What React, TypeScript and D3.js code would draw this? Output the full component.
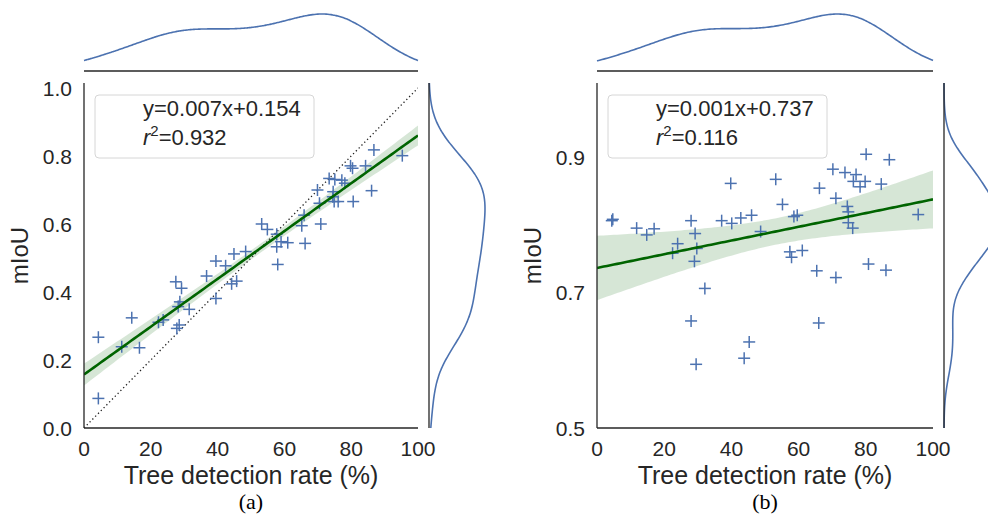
import React from "react";
import * as d3 from "d3";

// ---------- data ----------
const xTicks = [0, 20, 40, 60, 80, 100];
const yTicksA = [0.0, 0.2, 0.4, 0.6, 0.8, 1.0];
const yTicksB = [0.5, 0.7, 0.9];

const rateA = [4.3, 4.3, 11.3, 14.3, 16.6, 22.3, 23.7, 27.5, 29.2, 28.7, 28.2, 31.5, 27.8, 28.5, 36.7, 39.5, 39.5, 42.4, 44.2, 45.7, 44.9, 48.4, 53.2, 54.9, 57.7, 57.7, 59.0, 61.0, 58.0, 65.2, 65.9, 66.2, 70.9, 69.9, 70.5, 73.4, 74.6, 74.9, 76.1, 75.1, 77.2, 78.1, 74.5, 79.8, 80.4, 80.6, 84.3, 86.1, 86.8, 95.3];
const miouA = [0.267, 0.087, 0.239, 0.324, 0.236, 0.311, 0.318, 0.43, 0.411, 0.371, 0.357, 0.349, 0.293, 0.303, 0.447, 0.381, 0.491, 0.477, 0.424, 0.432, 0.512, 0.519, 0.6, 0.584, 0.57, 0.533, 0.548, 0.545, 0.481, 0.595, 0.626, 0.543, 0.6, 0.7, 0.661, 0.734, 0.695, 0.666, 0.666, 0.731, 0.729, 0.72, 0.68, 0.771, 0.764, 0.666, 0.771, 0.698, 0.818, 0.801];

const rateB = [4.4, 4.7, 11.8, 14.8, 17.0, 22.5, 24.0, 28.0, 29.2, 29.7, 29.0, 32.1, 28.0, 29.5, 37.1, 40.1, 39.8, 42.8, 46.0, 48.7, 45.3, 43.8, 53.2, 55.2, 58.6, 59.6, 57.4, 57.9, 61.1, 66.2, 65.4, 66.0, 70.2, 71.1, 71.1, 73.8, 74.5, 74.8, 74.8, 76.1, 77.1, 76.3, 78.3, 79.8, 80.1, 80.8, 84.6, 86.0, 87.0, 95.6];
const miouB = [0.806, 0.808, 0.795, 0.785, 0.794, 0.758, 0.772, 0.806, 0.787, 0.765, 0.746, 0.706, 0.658, 0.594, 0.806, 0.802, 0.861, 0.81, 0.814, 0.79, 0.627, 0.603, 0.867, 0.83, 0.812, 0.814, 0.76, 0.752, 0.762, 0.854, 0.732, 0.655, 0.882, 0.839, 0.722, 0.877, 0.827, 0.819, 0.803, 0.795, 0.874, 0.864, 0.856, 0.864, 0.904, 0.742, 0.86, 0.733, 0.896, 0.815];

const equations = ["y=0.007x+0.154", "y=0.001x+0.737"];
const r2Values = ["0.932", "0.116"];
const panelLabels = ["(a)", "(b)"];
const xLabel = "Tree detection rate (%)";
const yLabel = "mIoU";

// ---------- helpers ----------
const SANS = "'Liberation Sans', Arial, Helvetica, sans-serif";
const SERIF = "'Liberation Serif', 'Times New Roman', serif";
const BLUE = "#4c72b0";
const GREEN = "#006400";
const INK = "#262626";

function fit(xs: number[], ys: number[]) {
  const n = xs.length;
  const mx = d3.mean(xs)!;
  const my = d3.mean(ys)!;
  let sxx = 0, sxy = 0;
  xs.forEach((x, i) => { sxx += (x - mx) ** 2; sxy += (x - mx) * (ys[i] - my); });
  const slope = sxy / sxx;
  const intercept = my - slope * mx;
  let sse = 0;
  xs.forEach((x, i) => { sse += (ys[i] - (intercept + slope * x)) ** 2; });
  const s = Math.sqrt(sse / (n - 2));
  const t = 2.011;
  const ci = (x: number) => t * s * Math.sqrt(1 / n + (x - mx) ** 2 / sxx);
  return { slope, intercept, ci };
}

function kde(values: number[], grid: number[]) {
  const n = values.length;
  const sd = d3.deviation(values)!;
  const bw = sd * Math.pow(n, -1 / 5);
  const k = 1 / (bw * Math.sqrt(2 * Math.PI));
  return grid.map((g) => [g, (k / n) * d3.sum(values, (v) => Math.exp(-0.5 * ((g - v) / bw) ** 2))] as [number, number]);
}

type PanelProps = {
  idx: number;
  left: number;
  width: number;
  xs: number[];
  ys: number[];
  yDomain: [number, number];
  yTicks: number[];
  identity: boolean;
};

const TOP = 83;
const BOTTOM = 428;
const MARG_TOP_BASE = 71;
const MARG_TOP_PEAK = 14;
const MARG_GAP = 11;
const MARG_W = 56;

function Panel({ idx, left, width, xs, ys, yDomain, yTicks, identity }: PanelProps) {
  const right = left + width;
  const x = d3.scaleLinear().domain([0, 100]).range([left, right]);
  const y = d3.scaleLinear().domain(yDomain).range([BOTTOM, TOP]);
  const f = fit(xs, ys);
  const grid = d3.range(0, 100.001, 1);
  const band = d3.area<number>()
    .x((g) => x(g))
    .y0((g) => y(f.intercept + f.slope * g - f.ci(g)))
    .y1((g) => y(f.intercept + f.slope * g + f.ci(g)));
  const line = d3.line<number>().x((g) => x(g)).y((g) => y(f.intercept + f.slope * g));

  // marginal KDEs
  const kx = kde(xs, d3.range(0, 100.001, 0.5));
  const kxMax = d3.max(kx, (d) => d[1])!;
  const dTop = d3.scaleLinear().domain([0, kxMax]).range([MARG_TOP_BASE, MARG_TOP_PEAK]);
  const topPath = d3.line<[number, number]>().x((d) => x(d[0])).y((d) => dTop(d[1])).curve(d3.curveBasis)(kx);

  const ky = kde(ys, d3.range(yDomain[0], yDomain[1] + 1e-9, (yDomain[1] - yDomain[0]) / 200));
  const kyMax = d3.max(ky, (d) => d[1])!;
  const rBase = right + MARG_GAP;
  const dRight = d3.scaleLinear().domain([0, kyMax]).range([rBase, rBase + MARG_W]);
  const rightPath = d3.line<[number, number]>().x((d) => dRight(d[1])).y((d) => y(d[0])).curve(d3.curveBasis)(ky);

  const clipId = `clip${idx}`;
  const m = 6; // marker half size

  return (
    <g>
      <defs>
        <clipPath id={clipId}>
          <rect x={left} y={TOP} width={width} height={BOTTOM - TOP} />
        </clipPath>
      </defs>
      {/* top marginal */}
      <path d={topPath!} fill="none" stroke={BLUE} strokeWidth={1.6} />
      <line x1={left} x2={right} y1={MARG_TOP_BASE} y2={MARG_TOP_BASE} stroke={INK} strokeWidth={1.3} />
      {/* right marginal */}
      <path d={rightPath!} fill="none" stroke={BLUE} strokeWidth={1.6} />
      <line x1={rBase} x2={rBase} y1={TOP} y2={BOTTOM} stroke={INK} strokeWidth={1.3} />

      <g clipPath={`url(#${clipId})`}>
        <path d={band(grid)!} fill={GREEN} fillOpacity={0.16} stroke="none" />
        {identity && (
          <line x1={x(0)} y1={y(0)} x2={x(100)} y2={y(1)} stroke="#222" strokeWidth={1.3} strokeDasharray="1.3,2.7" />
        )}
        {xs.map((v, i) => (
          <g key={i} stroke={BLUE} strokeWidth={1.5}>
            <line x1={x(v) - m} x2={x(v) + m} y1={y(ys[i])} y2={y(ys[i])} />
            <line x1={x(v)} x2={x(v)} y1={y(ys[i]) - m} y2={y(ys[i]) + m} />
          </g>
        ))}
        <path d={line(grid)!} fill="none" stroke={GREEN} strokeWidth={2.6} />
      </g>

      {/* spines */}
      <line x1={left} x2={left} y1={TOP} y2={BOTTOM} stroke={INK} strokeWidth={1.3} />
      <line x1={left} x2={right} y1={BOTTOM} y2={BOTTOM} stroke={INK} strokeWidth={1.3} />

      {/* legend */}
      <rect x={left + 11} y={95} width={219} height={63} rx={4} fill="#fff" fillOpacity={0.85} stroke="#d6d6d6" strokeWidth={1} />
      <text x={left + 59} y={116} fontFamily={SANS} fontSize={22} fill={INK}>{equations[idx]}</text>
      <text x={left + 59} y={145} fontFamily={SANS} fontSize={22} fill={INK}>
        <tspan fontStyle="italic">r</tspan>
        <tspan fontSize={15} dy={-9}>2</tspan>
        <tspan dy={9}>={r2Values[idx]}</tspan>
      </text>

      {/* ticks */}
      {xTicks.map((t) => (
        <text key={t} x={x(t)} y={456} textAnchor="middle" fontFamily={SANS} fontSize={21} fill={INK}>{t}</text>
      ))}
      {yTicks.map((t) => (
        <text key={t} x={left - 12} y={y(t)} dy="0.36em" textAnchor="end" fontFamily={SANS} fontSize={21} fill={INK}>{t.toFixed(1)}</text>
      ))}
      <text x={(left + right) / 2} y={484} textAnchor="middle" fontFamily={SANS} fontSize={25} fill={INK}>{xLabel}</text>
      <text transform={`translate(${left - 56},${(TOP + BOTTOM) / 2}) rotate(-90)`} textAnchor="middle" fontFamily={SANS} fontSize={24} fill={INK}>{yLabel}</text>
      <text x={(left + right) / 2} y={509} textAnchor="middle" fontFamily={SERIF} fontSize={22} fill="#000">{panelLabels[idx]}</text>
    </g>
  );
}

export default function App() {
  return (
    <svg width={988} height={516} style={{ position: "absolute", left: 0, top: 0, background: "#fff" }}>
      <rect width={988} height={516} fill="#fff" />
      <Panel idx={0} left={84} width={334} xs={rateA} ys={miouA} yDomain={[0, 1.0147]} yTicks={yTicksA} identity={true} />
      <Panel idx={1} left={597} width={336} xs={rateB} ys={miouB} yDomain={[0.5, 1.0092]} yTicks={yTicksB} identity={false} />
    </svg>
  );
}
